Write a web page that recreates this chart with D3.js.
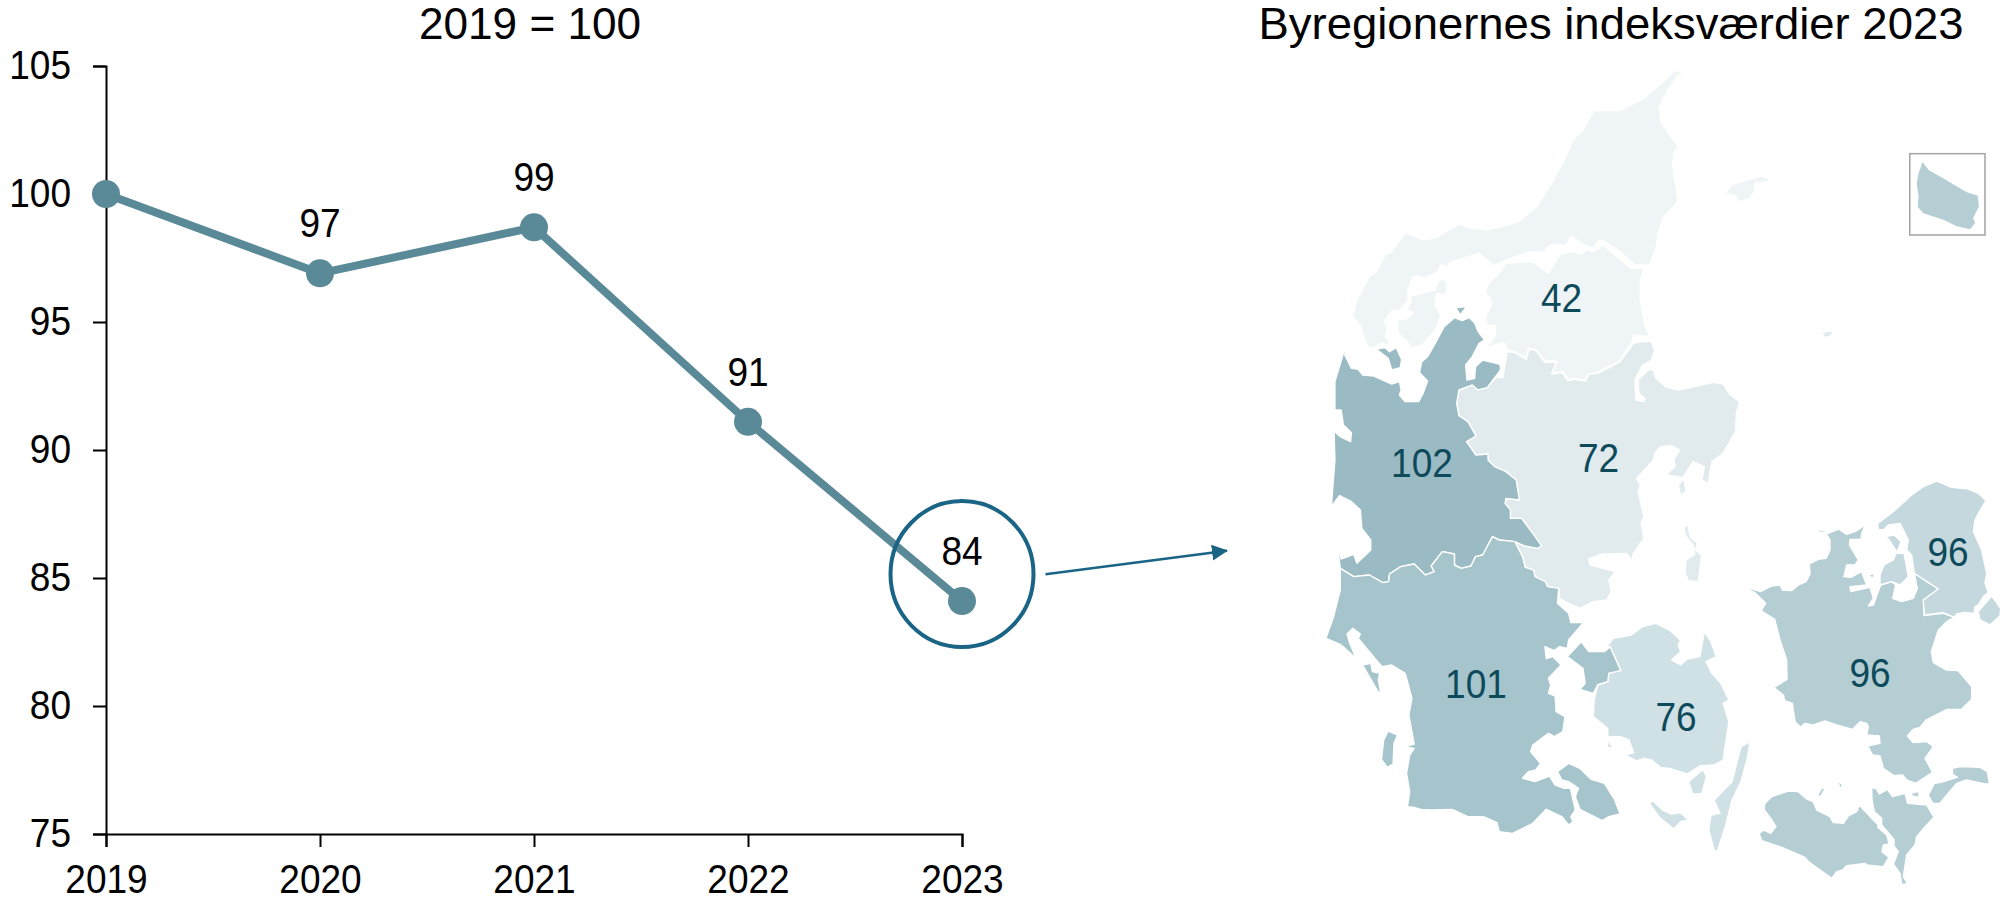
<!DOCTYPE html>
<html><head><meta charset="utf-8">
<script src="https://cdn.jsdelivr.net/npm/d3@7"></script>
<style>
html,body{margin:0;padding:0;background:#fff}
svg{display:block}
text{font-family:"Liberation Sans",Arial,sans-serif}
</style></head><body>
<svg id="c" width="2002" height="902"></svg>
<script>
// ---------- line chart data ----------
const years = ["2019","2020","2021","2022","2023"];
const indexValues = [100, 96.9, 98.7, 91.1, 84.1];
const indexLabels = ["", "97", "99", "91", "84"];
const yTicks = [75,80,85,90,95,100,105];

// ---------- map data ----------
const mapValues = [42, 72, 102, 101, 76, 96, 96];
const mapValuePos = [[1561.5,298],[1598.6,458],[1422,463],[1476,684],[1676,717],[1948,552],[1870,673]];

// tint of each region
const tint42="#eff5f6", tint72="#e1ebee", tint102="#9bbbc4", tint101="#a6c4cc", tint76="#d0e1e6", tint96S="#b4ced4", tint96N="#c4d8de";

// outlines (three trace frames)
const vendsyssel=[[835,63],[858,63],[840,85],[822,118],[802,172],[806,215],[828,260],[846,290],[836,305],[832,340],[838,395],[844,450],[838,465],[812,502],[800,550],[795,595],[780,645],[748,645],[715,605],[675,570],[665,575],[655,595],[635,585],[605,558],[595,585],[560,585],[542,607],[515,605],[470,625],[433,647],[400,610],[335,637],[330,650],[315,645],[305,668],[280,683],[253,677],[240,725],[242,750],[222,782],[205,782],[188,815],[195,835],[190,860],[198,870],[198,888],[182,878],[165,895],[152,890],[142,860],[137,830],[118,800],[125,755],[155,680],[170,665],[192,612],[203,608],[235,548],[277,570],[305,562],[355,522],[385,535],[415,540],[450,530],[488,515],[528,470],[560,405],[590,330],[610,270],[632,240],[656,182],[715,182],[768,145],[815,90]];
const mors=[[248,738],[302,720],[310,690],[322,688],[330,705],[325,735],[305,730],[302,770],[315,795],[303,840],[270,888],[247,895],[240,875],[220,850],[218,810],[240,805],[253,788],[238,780],[248,755]];
const himmerland=[[460,640],[520,635],[555,670],[582,612],[605,605],[628,612],[640,600],[655,605],[678,585],[720,635],[740,655],[768,655],[760,690],[760,750],[770,825],[782,860],[745,855],[740,880],[712,935],[662,968],[642,975],[638,990],[612,985],[600,990],[588,965],[563,970],[574,933],[548,933],[528,900],[510,895],[505,925],[480,905],[465,900],[455,877],[415,893],[435,860],[437,828],[418,825],[415,795],[428,765],[425,745],[415,730],[418,705],[445,670]];
const laeso=[[950,430],[965,403],[1030,378],[1048,385],[1045,395],[1015,400],[1015,425],[1005,445],[980,455],[973,438]];
const anholt=[[1165,848],[1195,840],[1183,860],[1172,862]];
const vestJylland=[[107,875],[97,910],[78,995],[78,1080],[92,1080],[97,1125],[115,1148],[113,1175],[90,1160],[76,1143],[78,1230],[70,1370],[88,1337],[115,1355],[135,1380],[138,1435],[158,1470],[158,1500],[127,1540],[120,1513],[92,1527],[82,1470],[90,1555],[120,1580],[155,1575],[185,1598],[198,1595],[200,1572],[225,1550],[255,1542],[280,1575],[300,1565],[293,1548],[318,1505],[345,1512],[345,1545],[360,1555],[382,1548],[392,1520],[408,1515],[430,1460],[445,1470],[480,1475],[500,1487],[530,1495],[540,1488],[520,1450],[495,1405],[470,1405],[470,1380],[458,1360],[460,1345],[490,1350],[483,1290],[460,1265],[435,1250],[420,1230],[420,1212],[393,1215],[372,1175],[393,1158],[375,1115],[355,1097],[350,1060],[355,1020],[385,1005],[397,1020],[418,1013],[448,960],[447,943],[408,930],[392,950],[390,985],[373,990],[370,945],[385,920],[400,880],[412,870],[398,845],[390,818],[378,803],[362,812],[345,803],[322,830],[300,885],[285,920],[272,935],[267,968],[285,993],[275,1030],[265,1055],[235,1055],[222,1035],[226,1020],[222,995],[205,1002],[165,978],[140,975],[130,958],[115,955],[100,915]];
const fur=[[170,897],[190,893],[200,905],[215,893],[227,928],[224,953],[205,960],[197,925]];
const venoe=[[348,773],[372,770],[358,795]];
const oestJylland=[[463,905],[480,908],[505,928],[512,897],[527,902],[547,937],[572,937],[562,973],[586,968],[598,992],[612,988],[638,993],[645,973],[665,970],[715,935],[745,880],[765,875],[785,875],[792,902],[785,930],[765,945],[748,990],[750,1050],[768,1055],[770,1045],[757,1030],[755,990],[778,960],[788,958],[795,985],[818,1012],[845,1020],[925,997],[945,1002],[960,1033],[982,1055],[975,1085],[973,1145],[945,1210],[920,1235],[912,1300],[898,1290],[903,1250],[878,1235],[855,1283],[820,1275],[807,1283],[825,1265],[838,1250],[835,1230],[848,1200],[830,1187],[805,1190],[792,1210],[790,1230],[752,1285],[760,1305],[755,1325],[768,1400],[762,1420],[768,1465],[745,1510],[742,1520],[745,1540],[730,1510],[675,1512],[645,1527],[648,1545],[705,1565],[690,1590],[695,1625],[685,1650],[655,1655],[625,1675],[600,1660],[580,1645],[578,1615],[553,1610],[548,1595],[525,1580],[522,1560],[503,1552],[497,1520],[480,1475],[500,1487],[530,1495],[540,1488],[520,1450],[495,1405],[470,1405],[470,1380],[458,1360],[460,1345],[490,1350],[483,1290],[460,1265],[435,1250],[420,1230],[420,1212],[393,1215],[372,1175],[393,1158],[375,1115],[355,1097],[350,1060],[355,1020],[385,1005],[397,1020],[418,1013],[438,982],[453,983]];
const samsoe=[[858,1430],[866,1423],[872,1462],[888,1480],[883,1500],[897,1515],[890,1595],[868,1592],[860,1570],[862,1530],[882,1513],[878,1485],[860,1455]];
const tunoe=[[845,1305],[858,1285],[862,1325],[850,1337]];
const soenderJylland=[[90,1555],[120,1580],[155,1575],[185,1598],[198,1595],[200,1572],[225,1550],[255,1542],[280,1575],[300,1565],[293,1548],[318,1505],[345,1512],[345,1545],[360,1555],[382,1548],[392,1520],[408,1515],[430,1460],[445,1470],[480,1475],[497,1520],[503,1552],[522,1560],[525,1580],[548,1595],[553,1610],[578,1615],[575,1660],[600,1690],[605,1718],[633,1718],[600,1770],[597,1795],[580,1790],[568,1802],[547,1790],[550,1826],[565,1820],[583,1845],[555,1885],[560,1905],[555,1930],[570,1938],[572,1985],[592,2000],[587,2045],[568,2060],[555,2050],[520,2085],[515,2105],[537,2140],[527,2160],[510,2165],[497,2185],[525,2195],[557,2178],[570,2205],[590,2215],[604,2215],[615,2280],[605,2300],[610,2315],[600,2325],[585,2300],[550,2278],[520,2320],[475,2350],[445,2345],[440,2318],[410,2300],[375,2300],[340,2278],[295,2280],[270,2278],[255,2272],[240,2270],[245,2225],[238,2170],[245,2115],[255,2095],[235,2090],[255,2082],[243,1995],[250,1945],[235,1870],[205,1845],[183,1850],[130,1765],[135,1752],[118,1735],[105,1752],[110,1775],[125,1825],[92,1785],[58,1765],[75,1700],[90,1620]];
const fanoe=[[140,1845],[158,1840],[162,1865],[178,1870],[175,1890],[180,1925],[175,1927]];
const roemoe=[[197,2043],[218,2055],[210,2080],[208,2142],[195,2152],[182,2128],[187,2070]];
const als=[[575,2165],[600,2140],[625,2155],[650,2188],[680,2200],[703,2250],[715,2292],[690,2300],[675,2312],[625,2278],[615,2240],[622,2215],[600,2195],[585,2190]];
const middelfart=[[597,1820],[628,1775],[645,1805],[680,1805],[693,1790],[717,1862],[690,1870],[688,1895],[665,1905],[655,1930],[625,1918],[637,1900],[632,1855]];
const fyn=[[685,1790],[700,1765],[740,1755],[765,1730],[795,1720],[825,1740],[850,1770],[845,1785],[850,1805],[830,1830],[850,1845],[865,1827],[893,1820],[903,1745],[918,1775],[930,1820],[907,1835],[920,1870],[940,1900],[958,1950],[945,1960],[958,2015],[945,2130],[925,2145],[893,2148],[865,2172],[825,2155],[805,2152],[785,2130],[768,2125],[752,2133],[725,2115],[745,2108],[735,2070],[715,2060],[688,2060],[687,2035],[655,2000],[657,1950],[665,1905],[688,1895],[690,1870],[717,1862],[693,1790]];
const baagoe=[[687,2072],[700,2093],[687,2093]];
const taasinge=[[868,2195],[900,2158],[908,2180],[897,2232],[877,2232]];
const aeroe=[[780,2260],[788,2252],[810,2280],[830,2292],[850,2288],[868,2310],[850,2315],[835,2337],[805,2305]];
const langeland=[[1005,2075],[1000,2120],[985,2195],[965,2250],[950,2330],[932,2405],[925,2400],[913,2340],[918,2295],[938,2290],[925,2250],[965,2195],[985,2090]];
const bornholm=[[1390,332],[1405,358],[1440,385],[1490,425],[1515,435],[1518,470],[1505,505],[1510,520],[1497,540],[1465,530],[1440,513],[1392,492],[1378,472],[1380,440],[1376,400],[1380,370]];

const sjaelland=[[70,352],[100,358],[122,365],[155,348],[180,345],[187,360],[215,362],[235,345],[258,335],[270,312],[268,282],[295,268],[318,265],[330,240],[330,210],[318,190],[265,178],[305,180],[325,190],[355,177],[380,193],[405,185],[437,165],[425,190],[423,208],[390,208],[388,225],[415,270],[405,285],[380,285],[372,320],[392,322],[425,305],[440,345],[390,350],[392,365],[450,352],[460,385],[445,408],[460,405],[482,345],[515,335],[527,345],[518,385],[545,395],[580,385],[592,355],[583,310],[655,357],[610,390],[612,437],[670,430],[703,442],[680,455],[655,480],[634,545],[640,578],[678,600],[714,602],[755,650],[755,688],[725,718],[681,718],[618,750],[600,772],[580,778],[562,798],[580,818],[620,815],[640,830],[615,865],[638,907],[587,940],[560,930],[548,915],[522,917],[490,895],[480,858],[458,855],[443,828],[480,820],[478,798],[440,795],[445,770],[440,760],[420,755],[398,778],[350,765],[315,753],[280,765],[255,760],[242,772],[225,755],[217,700],[194,692],[190,675],[161,653],[201,628],[200,570],[180,510],[164,448],[123,422],[137,400],[105,368]];
const nordsjaelland=[[473,160],[520,125],[575,75],[610,50],[650,33],[695,52],[745,57],[775,70],[798,92],[778,125],[765,150],[760,185],[785,240],[800,310],[795,340],[805,368],[790,380],[775,405],[765,410],[762,430],[735,427],[710,432],[703,442],[670,428],[613,435],[610,390],[655,357],[583,310],[575,255],[560,240],[565,210],[540,160],[505,165],[490,180],[475,178]];
const hornsherred=[[497,200],[522,195],[543,215],[530,250],[552,250],[565,320],[540,345],[515,335],[480,345],[480,315],[492,285],[520,270],[530,245],[508,210]];
const amager=[[815,378],[842,415],[840,437],[810,465],[780,450],[775,425]];
const orö=[[445,315],[465,310],[458,325]];

const lolland=[[27,340],[42,330],[62,340],[78,320],[62,295],[42,268],[45,250],[65,230],[115,213],[145,215],[170,237],[190,245],[200,270],[240,290],[250,308],[280,310],[295,288],[320,275],[328,255],[365,295],[385,315],[383,322],[410,345],[418,372],[400,375],[396,395],[417,412],[400,440],[350,435],[345,430],[290,437],[278,450],[260,455],[245,475],[175,425],[165,412],[90,380],[35,362]];
const falster=[[365,205],[378,205],[388,222],[412,208],[428,230],[465,220],[473,250],[530,255],[552,292],[525,320],[500,350],[495,375],[470,405],[460,470],[473,492],[455,493],[450,460],[430,432],[445,395],[432,378],[432,358],[395,315],[395,295],[373,275],[366,240]];
const moen=[[535,225],[553,190],[570,188],[622,172],[608,163],[607,145],[630,140],[690,142],[712,155],[718,192],[705,192],[650,180],[620,190],[590,225],[570,250],[548,250]];
const islet1=[[203,225],[215,205],[226,205],[210,232]];
const islet2=[[265,188],[270,186],[278,197],[270,205]];
const islet3=[[483,220],[505,215],[508,232],[487,228]];

const frameJ = [vendsyssel,mors,himmerland,laeso].map(s=>[s,tint42])
  .concat([[anholt,tint72],[oestJylland,tint72],[samsoe,tint72],[tunoe,tint72],
    [vestJylland,tint102],[fur,tint102],[venoe,tint102],
    [soenderJylland,tint101],[fanoe,tint101],[roemoe,tint101],[als,tint101],[middelfart,tint101],
    [fyn,tint76],[baagoe,tint76],[taasinge,tint76],[aeroe,tint76],[langeland,tint76],
    [bornholm,tint96S]]);
const frameS = [[sjaelland,tint96S],[orö,tint96S],[nordsjaelland,tint96N],[hornsherred,tint96N],[amager,tint96N]];
const frameL = [lolland,falster,moen,islet1,islet2,islet3].map(s=>[s,tint96S]);

// ---------- drawing ----------
const svg = d3.select("#c");
const fontSize = 40, digitWidth = 20.6, ink = "#000", lineCol = "#5a8a98", accent = "#1a6485", mapInk = "#0d4a5a";
const fit = sel => sel.attr("font-size",fontSize).attr("lengthAdjust","spacingAndGlyphs")
  .attr("textLength",function(){ return Math.max(1,this.textContent.length*digitWidth); });

const x = d3.scalePoint().domain(years).range([106,962]);
const y = d3.scaleLinear().domain([75,105]).range([834,66]);

const gx = svg.append("g").attr("transform","translate(0,834)")
  .call(d3.axisBottom(x).tickSize(13).tickSizeOuter(13).tickPadding(0));
gx.selectAll("text").attr("y",59).attr("dy",0);
const gy = svg.append("g").attr("transform","translate(106,0)")
  .call(d3.axisLeft(y).tickValues(yTicks).tickSize(13).tickSizeOuter(13).tickPadding(22));
gy.selectAll("text").attr("dy","0.31em");
for (const g of [gx,gy]) {
  g.attr("font-family",null).attr("font-size",null);
  g.selectAll("text").call(fit).attr("fill",ink);
  g.selectAll("path,line").attr("stroke",ink).attr("stroke-width",2);
}

svg.append("path").datum(indexValues)
  .attr("fill","none").attr("stroke",lineCol).attr("stroke-width",8)
  .attr("d",d3.line().x((d,i)=>x(years[i])).y(d=>y(d)));
svg.selectAll("circle.pt").data(indexValues).join("circle").attr("class","pt")
  .attr("cx",(d,i)=>x(years[i])).attr("cy",d=>y(d)).attr("r",14).attr("fill",lineCol);
svg.selectAll("text.dl").data(indexLabels).join("text").attr("class","dl")
  .attr("x",(d,i)=>x(years[i])).attr("y",(d,i)=>y(indexValues[i])-36)
  .attr("text-anchor","middle").attr("fill",ink).text(d=>d).call(fit);

svg.append("text").attr("x",530).attr("y",39).attr("text-anchor","middle")
  .attr("font-size",44).attr("textLength",222).attr("lengthAdjust","spacingAndGlyphs").attr("fill",ink).text("2019 = 100");
svg.append("text").attr("x",1611).attr("y",39).attr("text-anchor","middle")
  .attr("font-size",44).attr("textLength",705).attr("lengthAdjust","spacingAndGlyphs").attr("fill",ink).text("Byregionernes indeksværdier 2023");

// highlight ring + arrow
svg.append("ellipse").attr("cx",x("2023")).attr("cy",y(84)-29.5).attr("rx",71.5).attr("ry",73)
  .attr("fill","none").attr("stroke",accent).attr("stroke-width",4);
svg.append("defs").append("marker").attr("id","ah").attr("markerUnits","userSpaceOnUse")
  .attr("viewBox","0 0 16 16").attr("refX",15).attr("refY",8).attr("markerWidth",16).attr("markerHeight",16).attr("orient","auto")
  .append("path").attr("d","M0,0L16,8L0,16Z").attr("fill",accent);
svg.append("line").attr("x1",1045.5).attr("y1",574.3).attr("x2",1227).attr("y2",550.7)
  .attr("stroke",accent).attr("stroke-width",2.5).attr("marker-end","url(#ah)");

// map
const frames = [
  [frameJ, d3.scaleLinear().domain([0,1568]).range([1300,2002]), d3.scaleLinear().domain([0,1290]).range([50,480])],
  [frameS, d3.scaleLinear().domain([0,846]).range([1720,2002]), d3.scaleLinear().domain([0,540]).range([470,650])],
  [frameL, d3.scaleLinear().domain([0,756]).range([1750,2002]), d3.scaleLinear().domain([0,510]).range([720,890])]
];
const mapG = svg.append("g");
const bornholmX = frames[0][1], bornholmY = frames[0][2];
mapG.append("rect").attr("x",bornholmX(1362)).attr("y",bornholmY(311))
  .attr("width",bornholmX(1530)-bornholmX(1362)).attr("height",bornholmY(555)-bornholmY(311))
  .attr("fill","#fff").attr("stroke","#a3a3a3").attr("stroke-width",1.5);
for (const [shapes,sx,sy] of frames) {
  const gen = d3.line().x(d=>sx(d[0])).y(d=>sy(d[1])).curve(d3.curveLinearClosed);
  mapG.selectAll(null).data(shapes).join("path")
    .attr("d",d=>gen(d[0])).attr("fill",d=>d[1])
    .attr("stroke","#fff").attr("stroke-width",1.4).attr("stroke-linejoin","round");
}
svg.selectAll("text.mv").data(mapValues).join("text").attr("class","mv")
  .attr("x",(d,i)=>mapValuePos[i][0]).attr("y",(d,i)=>mapValuePos[i][1])
  .attr("dy","0.36em").attr("text-anchor","middle").attr("fill",mapInk).text(d=>d).call(fit);
</script>
</body></html>
